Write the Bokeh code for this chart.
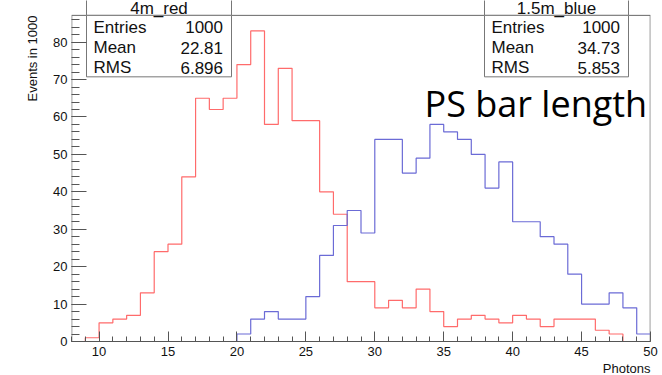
import numpy as np
from bokeh.plotting import figure
from bokeh.models import Title, FixedTicker
from bokeh.core.properties import value
from bokeh.embed import file_html
from bokeh.resources import INLINE

# ---- data ----
bin_low = list(range(8, 50))          # bin lower edges, width 1
red_counts = [0, 1, 5, 6, 7, 13, 24, 26, 44, 65, 62, 65, 74, 83, 58, 73, 59, 59,
              40, 34, 16, 16, 9, 11, 9, 14, 8, 4, 6, 7, 6, 5, 7, 6, 4, 6, 6, 6,
              3, 2, 0, 0]
blue_counts = [0, 0, 0, 0, 0, 0, 0, 0, 0, 0, 0, 0, 2, 6, 8, 6, 6, 12, 23, 31,
               35, 29, 54, 54, 45, 49, 58, 56, 54, 50, 41, 48, 32, 32, 28, 26,
               18, 10, 10, 13, 9, 2]
red_name = "4m_red"
blue_name = "1.5m_blue"
stat_names = ["Entries", "Mean", "RMS"]
red_stats = ["1000", "22.81", "6.896"]
blue_stats = ["1000", "34.73", "5.853"]
y_ticks = list(range(0, 81, 10))
y_minor = list(range(0, 88, 2))
x_ticks = list(range(10, 51, 5))
x_minor = list(range(8, 51, 1))
XMIN, XMAX, YMIN, YMAX = 8, 50, 0, 87.15

W, H = 662, 375
BL, BR, BB = 71, 12, 31
FW = W - BL - BR
PX_PER_Y = 329 / YMAX          # frame top of histogram sits 15 px below the canvas top
YTOP = YMAX + 15 / PX_PER_Y    # figure range reaches the canvas top


def dx(px):
    return XMIN + (px - BL) * (XMAX - XMIN) / FW


def dy(py):
    return YTOP - py / PX_PER_Y


p = figure(width=W, height=H, x_range=(XMIN, XMAX), y_range=(YMIN, YTOP),
           output_backend="svg", toolbar_location=None,
           min_border_left=BL, min_border_right=BR, min_border_top=0,
           min_border_bottom=BB)
p.xgrid.visible = False
p.ygrid.visible = False
p.background_fill_color = "white"
p.border_fill_color = "white"
p.outline_line_color = None

AX = "#555555"
for ax in (p.xaxis[0], p.yaxis[0]):
    ax.axis_line_color = AX
    ax.major_tick_line_color = AX
    ax.minor_tick_line_color = AX
    ax.major_tick_out = 0
    ax.minor_tick_out = 0
    ax.major_label_text_font = "Liberation Sans"
    ax.major_label_text_font_size = "13px"
    ax.major_label_text_color = "#111111"
p.yaxis.axis_line_color = None

p.yaxis.ticker = FixedTicker(ticks=y_ticks, minor_ticks=y_minor)
p.yaxis.major_tick_in = 15
p.yaxis.minor_tick_in = 8
p.yaxis.major_label_standoff = 4
p.xaxis.ticker = FixedTicker(ticks=x_ticks, minor_ticks=x_minor)
p.xaxis.major_tick_in = 10
p.xaxis.minor_tick_in = 5
p.xaxis.major_label_standoff = 5

# frame (left, top, right)
p.segment(x0=[XMIN + 0.02, XMIN, XMAX - 0.02], y0=[YMIN, YMAX, YMIN],
          x1=[XMIN + 0.02, XMAX, XMAX - 0.02], y1=[YMAX, YMAX, YMAX],
          line_color="#666666", line_width=1)

edges = np.array(bin_low + [bin_low[-1] + 1], dtype=float)
r = np.array(red_counts + [red_counts[-1]], dtype=float)
b = np.array(blue_counts + [blue_counts[-1]], dtype=float)
p.step(edges, r, mode="after", line_color="#ff6b6b", line_width=1.2)
p.step(edges, b, mode="after", line_color="#6b6bd6", line_width=1.2)

FONT = value("Liberation Sans")


def stat_box(left_px, right_px, title, values):
    p.quad(left=[dx(left_px), dx(left_px)], right=[dx(right_px), dx(right_px)],
           top=[dy(-5), YMAX], bottom=[YMAX, dy(77)],
           fill_color="white", line_color="#777777", line_width=1)
    p.text(x=[dx((left_px + right_px) / 2)], y=[dy(8.5)], text=[title],
           text_align="center", text_baseline="alphabetic", text_font=FONT,
           text_font_size="17px", text_color="#111111")
    ys = [dy(27 + i * 20.5) for i in range(len(stat_names))]
    p.text(x=[dx(left_px + 7)] * len(stat_names), y=ys, text=stat_names,
           text_align="left", text_baseline="alphabetic", text_font=FONT,
           text_font_size="17px", text_color="#111111")
    p.text(x=[dx(right_px - 8.5)] * len(values), y=ys, text=values,
           text_align="right", text_baseline="alphabetic", text_font=FONT,
           text_font_size="17px", text_color="#111111")


stat_box(86, 231, red_name, red_stats)
stat_box(484, 628, blue_name, blue_stats)

p.text(x=[dx(424)], y=[dy(104)], text=["PS bar length"], text_align="left",
       text_baseline="alphabetic", text_font=value("Open Sans"),
       text_font_size="36px", text_color="black")

p.add_layout(Title(text="Events in 1000", align="right", offset=15, standoff=21,
                   text_font="Liberation Sans", text_font_size="13px",
                   text_font_style="normal", text_color="#111111"), "left")
p.add_layout(Title(text="Photons", align="right", standoff=0,
                   text_font="Liberation Sans", text_font_size="13px",
                   text_font_style="normal", text_color="#111111"), "below")

open("out.html", "w").write(file_html(p, INLINE))
